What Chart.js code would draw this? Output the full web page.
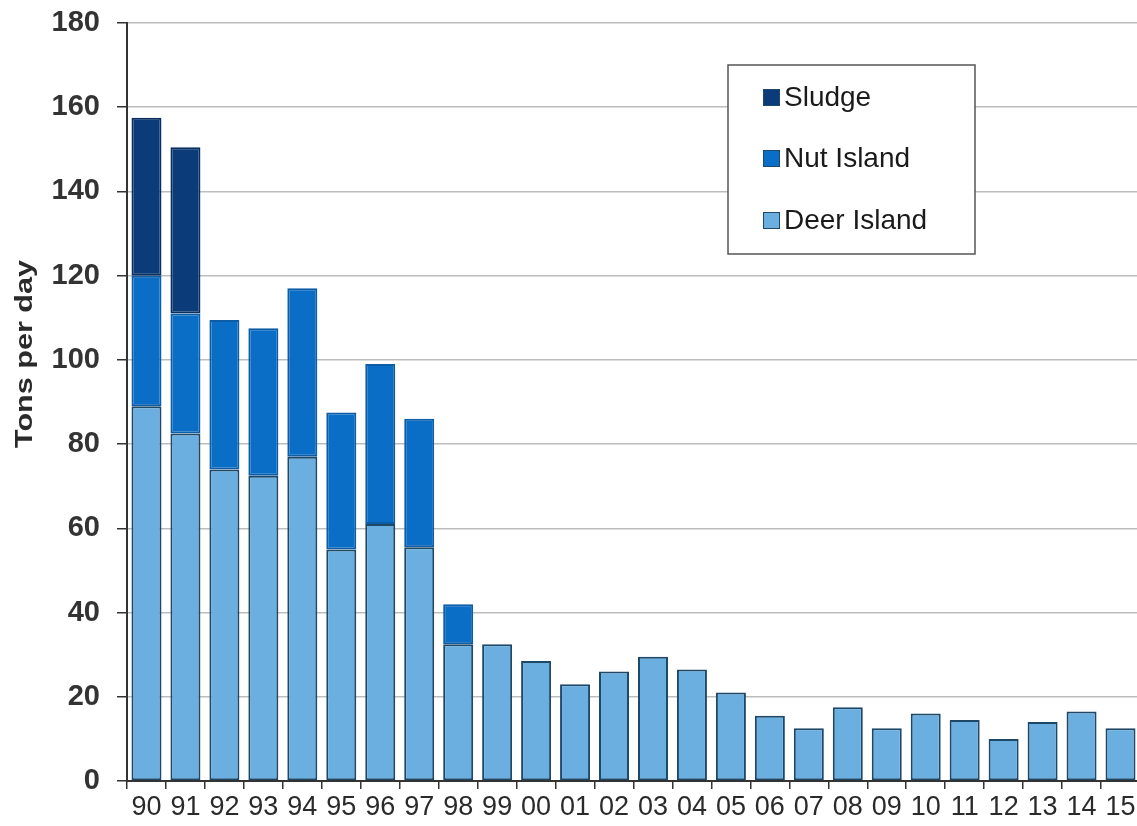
<!DOCTYPE html>
<html>
<head>
<meta charset="utf-8">
<script src="https://cdn.jsdelivr.net/npm/chart.js@4.4.0/dist/chart.umd.min.js"></script>
<style>
  html, body { margin: 0; padding: 0; background: #fff; overflow: hidden; }
  #wrap { width: 1140px; height: 826px; }
</style>
</head>
<body>
<div id="wrap"><canvas id="loadChart" width="1140" height="826"></canvas></div>
<script>
// years (two-digit labels)
var years = ['90', '91', '92', '93', '94', '95', '96', '97', '98', '99', '00', '01', '02',
             '03', '04', '05', '06', '07', '08', '09', '10', '11', '12', '13', '14', '15'];

// tons per day
var deerIsland = [89, 82.5, 74, 72.5, 77, 55, 61, 55.5, 32.5, 32.5, 28.5, 23, 26,
                  29.5, 26.5, 21, 15.5, 12.5, 17.5, 12.5, 16, 14.5, 10, 14, 16.5, 12.5];
var nutIsland = [31, 28.5, 35.5, 35, 40, 32.5, 38, 30.5, 9.5, null, null, null, null,
                 null, null, null, null, null, null, null, null, null, null, null, null, null];
var sludge = [37.5, 39.5, null, null, null, null, null, null, null, null, null, null, null,
              null, null, null, null, null, null, null, null, null, null, null, null, null];

var yTicks = [0, 20, 40, 60, 80, 100, 120, 140, 160, 180];
var yTitle = 'Tons per day';

var FONT = "'Liberation Sans', Arial, sans-serif";
var barBorder = '#1d4868';

// y title drawn by hand so it sits where the original has it
var yTitlePlugin = {
    id: 'yTitle',
    afterDraw: function(chart) {
        var ctx = chart.ctx;
        ctx.save();
        ctx.font = 'bold 24px ' + FONT;
        var w = ctx.measureText(yTitle).width;
        ctx.translate(25, 354);
        ctx.rotate(-Math.PI / 2);
        ctx.scale(188 / w, 1);
        ctx.fillStyle = '#2a2a2a';
        ctx.textAlign = 'center';
        ctx.textBaseline = 'middle';
        ctx.fillText(yTitle, 0, 0);
        ctx.restore();
    }
};

// boxed legend inside the plot, top series first
var boxLegend = {
    id: 'boxLegend',
    afterDraw: function(chart) {
        var ctx = chart.ctx;
        var box = { x: 728, y: 65, w: 247, h: 189 };
        ctx.save();
        ctx.fillStyle = '#fff';
        ctx.fillRect(box.x, box.y, box.w, box.h);
        ctx.strokeStyle = '#555';
        ctx.lineWidth = 1.5;
        ctx.strokeRect(box.x, box.y, box.w, box.h);
        var sets = chart.data.datasets.slice().reverse();
        var rows = [97, 158, 220];
        ctx.font = '28px ' + FONT;
        ctx.textBaseline = 'middle';
        ctx.textAlign = 'left';
        sets.forEach(function(ds, i) {
            var y = rows[i];
            ctx.fillStyle = ds.backgroundColor;
            ctx.fillRect(763, y - 8, 17, 17);
            ctx.strokeStyle = barBorder;
            ctx.lineWidth = 1;
            ctx.strokeRect(763.5, y - 7.5, 16, 16);
            ctx.fillStyle = '#1a1a1a';
            ctx.fillText(ds.label, 784, y + 1);
        });
        ctx.restore();
    }
};

var ctx = document.getElementById('loadChart').getContext('2d');
var loadChart = new Chart(ctx, {
    type: 'bar',
    data: {
        labels: years,
        datasets: [
            {
                label: 'Deer Island',
                data: deerIsland,
                backgroundColor: '#6aafdf',
                borderColor: barBorder,
                borderWidth: 2,
                borderSkipped: false
            },
            {
                label: 'Nut Island',
                data: nutIsland,
                backgroundColor: '#0b6ec6',
                borderColor: '#0c5ca6',
                borderWidth: 2,
                borderSkipped: false
            },
            {
                label: 'Sludge',
                data: sludge,
                backgroundColor: '#0b3b78',
                borderColor: '#0a2f5e',
                borderWidth: 2,
                borderSkipped: false
            }
        ]
    },
    options: {
        responsive: false,
        animation: false,
        layout: { padding: { top: 23, left: 0, right: 0, bottom: 0 } },
        datasets: {
            bar: { barPercentage: 0.77, categoryPercentage: 1 }
        },
        plugins: {
            legend: { display: false },
            tooltip: { enabled: false }
        },
        scales: {
            x: {
                stacked: true,
                grid: {
                    drawOnChartArea: false,
                    tickLength: 8,
                    tickColor: '#333',
                    lineWidth: 1.5
                },
                border: { color: '#333', width: 2 },
                ticks: {
                    color: '#2a2a2a',
                    font: { family: FONT, size: 27 },
                    padding: 2,
                    maxRotation: 0,
                    autoSkip: false
                },
                afterFit: function(scale) {
                    scale.height = 45;
                    scale.paddingLeft = 0;
                    scale.paddingRight = 0;
                }
            },
            y: {
                stacked: true,
                min: 0,
                max: 180,
                afterBuildTicks: function(scale) {
                    scale.ticks = yTicks.map(function(v) { return { value: v }; });
                },
                grid: {
                    color: '#bdbdbd',
                    lineWidth: 1.5,
                    tickLength: 10,
                    tickColor: '#333'
                },
                border: { color: '#333', width: 2 },
                ticks: {
                    color: '#333',
                    font: { family: FONT, size: 29, weight: 'bold' },
                    padding: 17
                },
                afterFit: function(scale) {
                    scale.width = 127;
                    scale.paddingTop = 0;
                    scale.paddingBottom = 0;
                }
            }
        }
    },
    plugins: [yTitlePlugin, boxLegend]
});
</script>
</body>
</html>
